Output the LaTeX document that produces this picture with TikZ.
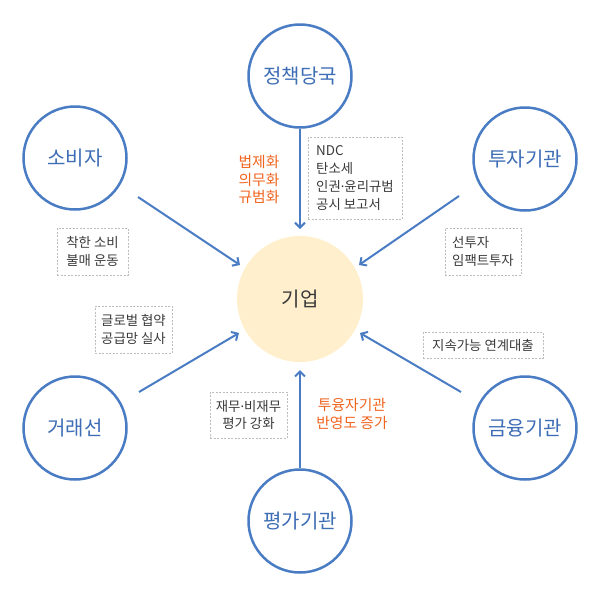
\documentclass[tikz,border=0pt]{standalone}
\usepackage{fontspec}
\setmainfont{Noto Sans CJK KR}
\newfontfamily\latinfont{Noto Sans}
\newcommand{\middot}{{\latinfont ·}}
\usetikzlibrary{arrows.meta}
\definecolor{blueline}{HTML}{4A7CC4}
\definecolor{bluetext}{HTML}{3D6DB5}
\definecolor{cream}{HTML}{FFEFCC}
\definecolor{orangetext}{HTML}{F0641E}
\definecolor{darktext}{HTML}{3A3A3A}
\definecolor{dashgray}{HTML}{BDBDBD}
\tikzset{
  actor/.style={circle, draw=blueline, line width=2.5pt, minimum size=103pt, inner sep=0pt,
    text=bluetext, font=\fontsize{20}{24}\selectfont},
  core/.style={circle, fill=cream, minimum size=126pt, inner sep=0pt,
    text=darktext, font=\fontsize{20}{24}\selectfont},
  note/.style={draw=dashgray, line width=0.8pt, dash pattern=on 2pt off 1.5pt, inner sep=0pt,
    text=darktext, font=\fontsize{13.4}{17.7}\selectfont},
  hint/.style={text=orangetext, align=center, inner sep=0pt, font=\fontsize{14.8}{17.7}\selectfont},
  flow/.style={draw=blueline, line width=2pt, -{Straight Barb[length=5pt,width=10pt]}}
}
\begin{document}
\begin{tikzpicture}[x=1pt,y=-1pt]
\useasboundingbox (0,0) rectangle (600,600);
% centre
\node[core] (firm) at (300,299) {기업};
% actors
\node[actor] (pol) at (300,76) {정책당국};
\node[actor] (con) at (75,158) {소비자};
\node[actor] (inv) at (525,159) {투자기관};
\node[actor] (sup) at (75,428) {거래선};
\node[actor] (fin) at (525,428) {금융기관};
\node[actor] (eval) at (300,521) {평가기관};
% connector end points
\coordinate (polEnd) at (300,229);
\coordinate (conStart) at (138,197);
\coordinate (conEnd) at (240,265);
\coordinate (invStart) at (459,196);
\coordinate (invEnd) at (359,265);
\coordinate (supStart) at (139,392);
\coordinate (supEnd) at (239,333);
\coordinate (finStart) at (461,392);
\coordinate (finEnd) at (360,333);
\coordinate (evalEnd) at (300,370);
% connectors
\draw[flow] (pol.south) -- (polEnd);
\draw[flow] (conStart) -- (conEnd);
\draw[flow] (invStart) -- (invEnd);
\draw[flow] (supStart) -- (supEnd);
\draw[flow] (finStart) -- (finEnd);
\draw[flow] (eval.north) -- (evalEnd);
% notes
\node[note, minimum width=94pt, minimum height=82pt, align=left] (ndc) at (355,178)
  {NDC\\탄소세\\인권\middot 윤리규범\\공시 보고서};
\node[note, minimum width=71pt, minimum height=47pt, align=center] (good) at (92.5,251.5)
  {착한 소비\\불매 운동};
\node[note, minimum width=77pt, minimum height=47pt, align=center] (glob) at (133.5,329.5)
  {글로벌 협약\\공급망 실사};
\node[note, minimum width=76pt, minimum height=47pt, align=left] (pre) at (483,251.5)
  {선투자\\임팩트투자};
\node[note, minimum width=120pt, minimum height=26pt, align=center] (loan) at (483,345)
  {지속가능 연계대출};
\node[note, minimum width=77pt, minimum height=46pt, align=center] (fin2) at (248.5,415)
  {재무\middot 비재무\\평가 강화};
% orange hints
\node[hint] (law) at (259,179.5) {법제화\\의무화\\규범화};
\node[hint] (refl) at (352,414) {투융자기관\\반영도 증가};
\end{tikzpicture}
\end{document}
